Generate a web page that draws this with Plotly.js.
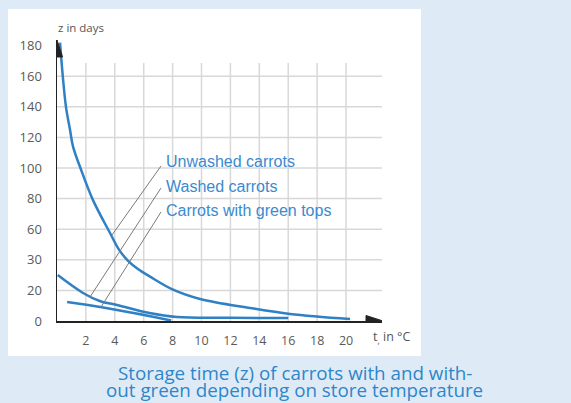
<!DOCTYPE html>
<html>
<head>
<meta charset="utf-8">
<script src="https://cdn.plot.ly/plotly-3.0.1.min.js"></script>
<style>html,body{margin:0;padding:0;background:#deebf7;}#chart{width:571px;height:403px;}</style>
</head>
<body>
<div id="chart"></div>
<script>
// ---- data ----
const xTickVals = [2, 4, 6, 8, 10, 12, 14, 16, 18, 20];
const xTickText = ["2", "4", "6", "8", "10", "12", "14", "16", "18", "20"];
const yTickVals = [0, 20, 40, 60, 80, 100, 120, 140, 160, 180];
const yTickText = ["0", "20", "30", "60", "80", "100", "120", "140", "160", "180"];

const seriesNames = ["Unwashed carrots", "Washed carrots", "Carrots with green tops"];

const unwashedT = [0.21, 0.42, 0.62, 0.9, 1.11, 1.66, 2.49, 3.67, 4.3, 4.9, 5.6, 6.44, 8.03, 9.9, 13.36, 16.12, 20.28];
const unwashedZ = [182, 158, 140, 125, 114, 99, 79, 57.5, 46.5, 39.5, 34, 29, 20.5, 14.4, 8.5, 4.6, 1.3];

const washedT = [0.05, 1.8, 3.0, 4.15, 6.4, 8.3, 12, 16];
const washedZ = [30, 18.3, 12.9, 10.5, 5.2, 2.6, 2.1, 1.9];

const greenT = [0.7, 3.0, 5.3, 7.9];
const greenZ = [12.4, 9.2, 5.2, 0.3];

// ---- layout helpers (pixel -> data / paper) ----
const L = 57, R = 382, T = 40, B = 321;
const xMax = 22.49, yMax = 183.66;
const X = px => (px - L) / (R - L) * xMax;
const Y = py => (B - py) / (B - T) * yMax;
const PX = px => (px - L) / (R - L);
const PY = py => (B - py) / (B - T);

const blue = "#2f80c4";
const labelBlue = "#3a8ad0";
const gridCol = "#d8d8d8";
const axisCol = "#222222";

const traces = [
  {x: unwashedT, y: unwashedZ, name: seriesNames[0]},
  {x: washedT, y: washedZ, name: seriesNames[1]},
  {x: greenT, y: greenZ, name: seriesNames[2]}
].map(s => Object.assign(s, {
  type: "scatter", mode: "lines",
  line: {color: blue, width: 2.5, shape: "spline", smoothing: 1},
  hoverinfo: "skip"
}));

const shapes = [];
// white panel
shapes.push({type: "rect", xref: "paper", yref: "paper", x0: PX(8), x1: PX(421), y0: PY(356), y1: PY(9),
  fillcolor: "#ffffff", line: {width: 0}, layer: "below"});
// horizontal grid
yTickVals.filter(v => v > 0 && v < 180).forEach(v => shapes.push({type: "line", xref: "x", yref: "y",
  x0: 0, x1: xMax, y0: v, y1: v, line: {color: gridCol, width: 1.5}, layer: "below"}));
// vertical grid
xTickVals.forEach(v => shapes.push({type: "line", xref: "x", yref: "y",
  x0: v, x1: v, y0: 0, y1: Y(63), line: {color: gridCol, width: 1.5}, layer: "below"}));
// axis arrows
shapes.push({type: "path", xref: "x", yref: "y",
  path: `M ${X(51.5)},${Y(57)} L ${X(62.5)},${Y(57)} L ${X(57)},${Y(40)} Z`,
  fillcolor: axisCol, line: {color: axisCol, width: 1}});
shapes.push({type: "path", xref: "x", yref: "y",
  path: `M ${X(366)},${Y(315.5)} L ${X(366)},${Y(326.5)} L ${X(383)},${Y(321)} Z`,
  fillcolor: axisCol, line: {color: axisCol, width: 1}});
// leader lines
const leaders = [[161, 166, 112, 235], [161, 188, 90, 297], [161, 212, 101, 307]];
leaders.forEach(l => shapes.push({type: "line", xref: "x", yref: "y",
  x0: X(l[0]), y0: Y(l[1]), x1: X(l[2]), y1: Y(l[3]), line: {color: "#7a7a7a", width: 1}}));

const labelY = [161, 186, 210];
const annotations = seriesNames.map((n, i) => ({
  text: n, x: X(164), y: Y(labelY[i]), xref: "x", yref: "y", xanchor: "left", yanchor: "middle",
  showarrow: false, font: {family: "Liberation Sans, Arial, sans-serif", size: 16, color: labelBlue}
}));
annotations.push({text: "z in days", x: PX(81), y: PY(27), xref: "paper", yref: "paper", xanchor: "center", yanchor: "middle",
  showarrow: false, font: {family: "Open Sans, sans-serif", size: 11.5, color: "#555"}});
annotations.push({text: "t<sub>,</sub> in °C", x: PX(391), y: PY(337), xref: "paper", yref: "paper", xanchor: "center", yanchor: "middle",
  showarrow: false, font: {family: "Open Sans, sans-serif", size: 12.5, color: "#555"}});
annotations.push({text: "Storage time (z) of carrots with and with-", x: PX(295), y: PY(373), xref: "paper", yref: "paper",
  xanchor: "center", yanchor: "middle",
  showarrow: false, font: {family: "Open Sans, sans-serif", size: 18.8, color: "#2d86c9"}});
annotations.push({text: "out green depending on store temperature", x: PX(294), y: PY(390), xref: "paper", yref: "paper",
  xanchor: "center", yanchor: "middle",
  showarrow: false, font: {family: "Open Sans, sans-serif", size: 18.8, color: "#2d86c9"}});

const layout = {
  width: 571, height: 403,
  margin: {l: L, r: 571 - R, t: T, b: 403 - B, pad: 0},
  paper_bgcolor: "#deebf7",
  plot_bgcolor: "rgba(0,0,0,0)",
  showlegend: false,
  xaxis: {range: [0, xMax], tickvals: xTickVals, ticktext: xTickText, showgrid: false, zeroline: false,
    showline: true, linecolor: axisCol, linewidth: 1.5, ticks: "outside", ticklen: 7, tickcolor: "rgba(0,0,0,0)",
    tickfont: {family: "Open Sans, sans-serif", size: 12.5, color: "#5a5a5a"}, fixedrange: true},
  yaxis: {range: [0, yMax], tickvals: yTickVals, ticktext: yTickText, showgrid: false, zeroline: false,
    showline: true, linecolor: axisCol, linewidth: 1.5, ticks: "outside", ticklen: 11, tickcolor: "rgba(0,0,0,0)",
    tickfont: {family: "Open Sans, sans-serif", size: 13, color: "#5a5a5a"}, fixedrange: true},
  shapes: shapes,
  annotations: annotations
};

Plotly.newPlot("chart", traces, layout, {displayModeBar: false, staticPlot: true});
</script>
</body>
</html>
